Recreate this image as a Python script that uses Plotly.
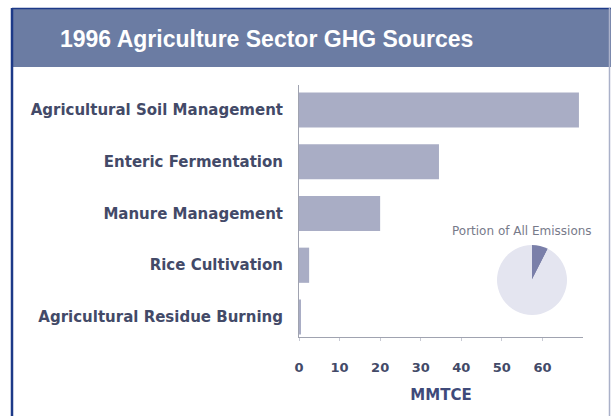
import plotly.graph_objects as go

# sources (du haut vers le bas) et valeurs en MMTCE
categories = [
    "Agricultural Soil Management",
    "Enteric Fermentation",
    "Manure Management",
    "Rice Cultivation",
    "Agricultural Residue Burning",
]
values = [69.0, 34.5, 20.0, 2.5, 0.3]
tick_vals = [0, 10, 20, 30, 40, 50, 60]

pie_labels = ["Agriculture", "All other sources"]
pie_values = [7.5, 92.5]

W, H = 611, 416
ML, MR, MT, MB = 299, 28, 85, 79
PW, PH = W - ML - MR, H - MT - MB


def px_x(x):
    return (x - ML) / PW


def px_y(y):
    return (H - MB - y) / PH


bar_color = "#a9adc5"
label_color = "#434a68"
label_font = "DejaVu Sans, Verdana"

fig = go.Figure()
fig.add_trace(go.Bar(
    x=values,
    y=categories,
    orientation="h",
    marker=dict(color=bar_color, line=dict(width=0)),
    width=0.68,
    showlegend=False,
))
fig.add_trace(go.Pie(
    labels=pie_labels,
    values=pie_values,
    sort=False,
    direction="clockwise",
    rotation=0,
    textinfo="none",
    marker=dict(colors=["#7a7fa9", "#e4e5f0"], line=dict(width=0)),
    domain=dict(x=[px_x(497), px_x(567)], y=[px_y(315), px_y(245)]),
    showlegend=False,
    hoverinfo="label+percent",
))

# cadre + bandeau de titre
fig.add_shape(type="rect", xref="paper", yref="paper",
              x0=px_x(12), x1=px_x(611), y0=px_y(67), y1=px_y(8),
              fillcolor="#6b7ca3", line=dict(width=0), layer="below")
fig.add_shape(type="line", xref="paper", yref="paper",
              x0=px_x(12), x1=px_x(611), y0=px_y(8.5), y1=px_y(8.5),
              line=dict(color="#1d3a88", width=1.5))
fig.add_shape(type="line", xref="paper", yref="paper",
              x0=px_x(12), x1=px_x(12), y0=px_y(8), y1=px_y(416),
              line=dict(color="#1d3a88", width=2.5))
fig.add_shape(type="line", xref="paper", yref="paper",
              x0=px_x(609.5), x1=px_x(609.5), y0=px_y(8), y1=px_y(416),
              line=dict(color="#aab1c9", width=1.5))

fig.add_annotation(x=px_x(266), y=px_y(39), xref="paper", yref="paper",
                   xanchor="center", yanchor="middle",
                   text="<b>1996 Agriculture Sector GHG Sources</b>", showarrow=False,
                   font=dict(family="Liberation Sans, Arial", size=23, color="white"))
fig.add_annotation(x=px_x(522), y=px_y(231), xref="paper", yref="paper",
                   xanchor="center", yanchor="middle",
                   text="Portion of All Emissions", showarrow=False,
                   font=dict(family=label_font, size=12, color="#777a8a"))

fig.update_layout(
    width=W, height=H,
    margin=dict(l=ML, r=MR, t=MT, b=MB),
    paper_bgcolor="white",
    plot_bgcolor="white",
    font=dict(family=label_font, color=label_color),
    xaxis=dict(
        range=[0, 70],
        tickvals=tick_vals,
        showgrid=False,
        zeroline=False,
        showline=True,
        linecolor="#a0a3b0",
        linewidth=1,
        ticks="outside",
        ticklen=3,
        tickcolor="#c8cad4",
        ticklabelstandoff=15,
        tickfont=dict(size=13, color=label_color, family=label_font, weight="bold"),
        title=dict(text="MMTCE", font=dict(size=15, color="#3f4a7a", weight="bold"), standoff=15),
    ),
    yaxis=dict(
        categoryorder="array",
        categoryarray=categories[::-1],
        range=[-0.387, 4.483],
        showgrid=False,
        showline=True,
        linecolor="#a0a3b0",
        linewidth=1,
        ticks="",
        ticklabelstandoff=12,
        tickfont=dict(size=15, color=label_color, family=label_font, weight="bold"),
    ),
)

fig.write_html("out.html", post_script="document.body.style.margin='0';",
               config={"displayModeBar": False})
